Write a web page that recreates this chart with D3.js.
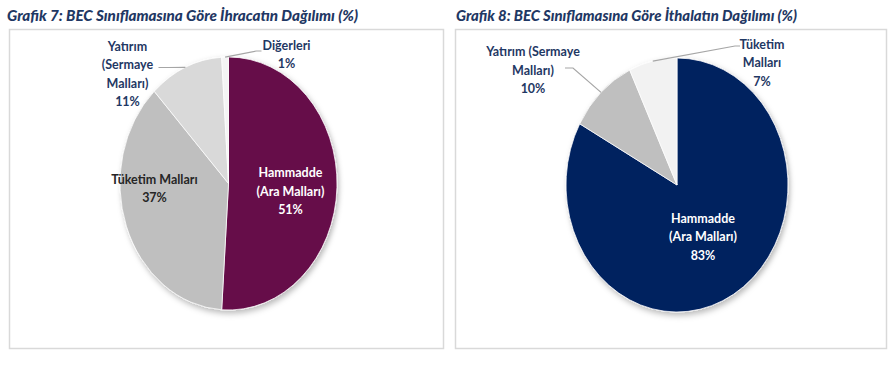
<!DOCTYPE html>
<html>
<head>
<meta charset="utf-8">
<script src="https://cdn.jsdelivr.net/npm/d3@7"></script>
<style>
  body { margin: 0; background: #fff; }
  svg { display: block; font-family: Lato, "Open Sans", sans-serif; }
</style>
</head>
<body>
<svg width="894" height="368"></svg>
<script>
let svg = d3.select('svg');

// grafik 7 - ihracat
const exportLabels = [['Hammadde', '(Ara Malları)'], ['Tüketim Malları'], ['Yatırım', '(Sermaye', 'Malları)'], ['Diğerleri']];
const exportValues = [51, 37, 11, 1];
const exportColors = ['#660a48', '#bfbfbf', '#d9d9d9', '#f4f4f4'];

// grafik 8 - ithalat
const importLabels = [['Hammadde', '(Ara Malları)'], ['Yatırım (Sermaye', 'Malları)'], ['Tüketim', 'Malları']];
const importValues = [83, 10, 7];
const importColors = ['#00205f', '#bfbfbf', '#f2f2f2'];

const titles = ['Grafik 7:  BEC Sınıflamasına Göre İhracatın Dağılımı (%)',
                'Grafik 8:  BEC Sınıflamasına Göre İthalatın Dağılımı (%)'];

const navy = '#1f3864';

let defs = svg.append('defs');
let f = defs.append('filter').attr('id', 'shadow')
    .attr('x', '-20%').attr('y', '-20%').attr('width', '140%').attr('height', '140%');
f.append('feDropShadow').attr('dx', 2).attr('dy', 3).attr('stdDeviation', 3)
    .attr('flood-color', '#000').attr('flood-opacity', 0.28);

// panel frames + titles
[[9, 443], [455, 886]].forEach((p, i) => {
    svg.append('rect')
        .attr('x', p[0] + 0.5).attr('y', 29.5)
        .attr('width', p[1] - p[0]).attr('height', 319)
        .attr('fill', 'none').attr('stroke', '#d9d9d9').attr('stroke-width', 1.5);
    svg.append('text')
        .attr('x', i ? 456 : 7).attr('y', 21)
        .attr('font-size', 14.5).attr('font-weight', 900).attr('font-style', 'italic')
        .attr('fill', navy)
        .attr('textLength', i ? 341 : 351).attr('lengthAdjust', 'spacingAndGlyphs')
        .text(titles[i]);
});

function drawPie(cfg) {
    let sx = cfg.rx / cfg.ry;
    let g = svg.append('g').attr('transform', `translate(${cfg.cx},${cfg.cy})`);
    let arcs = d3.pie().sort(null)(cfg.values);
    let arc = d3.arc().innerRadius(0).outerRadius(cfg.ry);
    let edge = d3.arc().innerRadius(cfg.ry).outerRadius(cfg.ry);

    g.append('g').attr('transform', `scale(${sx},1)`).attr('filter', 'url(#shadow)')
        .selectAll('path')
        .data(arcs)
        .enter()
        .append('path')
        .attr('d', arc)
        .attr('fill', (d, i) => cfg.colors[i])
        .attr('stroke', '#fff')
        .attr('stroke-width', 0.8);

    arcs.forEach((d, i) => {
        let lab = cfg.place[i];
        let lines = cfg.labels[i].concat([cfg.values[i] + '%']);
        let x = lab.x, y0 = lab.y - (lines.length - 1) * 18.5 / 2;
        if (lab.leader) {
            let e = edge.centroid(d);
            let pts = [[e[0] * sx, e[1]]].concat(lab.leader);
            g.append('path')
                .attr('d', d3.line()(pts))
                .attr('fill', 'none').attr('stroke', '#a6a6a6').attr('stroke-width', 1.2);
        }
        let t = g.append('text')
            .attr('text-anchor', 'middle')
            .attr('font-size', 12.5).attr('font-weight', 'bold')
            .attr('fill', lab.color);
        lines.forEach((s, j) => {
            t.append('tspan').attr('x', x).attr('y', y0 + j * 18.5).attr('dy', '0.35em').text(s);
        });
    });
}

drawPie({
    cx: 228.5, cy: 183.5, rx: 108.5, ry: 126.5,
    values: exportValues, labels: exportLabels, colors: exportColors,
    place: [
        { x: 62, y: 8, color: '#fff' },
        { x: -74, y: 5, color: '#262626' },
        { x: -101, y: -109.5, color: navy, leader: [[-60, -116], [-70, -116]] },
        { x: 58, y: -129, color: navy, leader: [[28, -132.5], [33, -132.5]] }
    ]
});

drawPie({
    cx: 677, cy: 185, rx: 111, ry: 127,
    values: importValues, labels: importLabels, colors: importColors,
    place: [
        { x: 26, y: 52, color: '#fff' },
        { x: -144, y: -114.5, color: navy, leader: [[-104, -117], [-112, -117]] },
        { x: 85, y: -122, color: navy, leader: [[58, -139], [63, -139]] }
    ]
});
</script>
</body>
</html>
